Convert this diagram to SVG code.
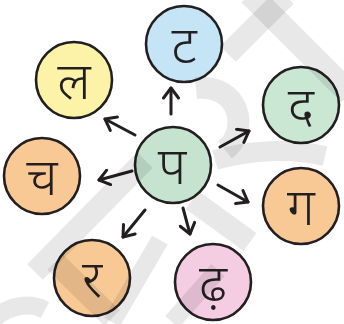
<svg xmlns="http://www.w3.org/2000/svg" width="344" height="324" viewBox="0 0 344 324">
<style>
.c{stroke:#231f20;stroke-width:2.6}
.t{font-family:"Noto Sans Devanagari","Noto Sans","Lohit Devanagari","DejaVu Sans",sans-serif;font-size:52px;font-weight:300;fill:#231f20;text-anchor:middle}
.a{stroke:#231f20;stroke-width:3;fill:none;stroke-linecap:round}
.w{stroke:#000;stroke-opacity:0.09;fill:none}
</style>
<defs>
<marker id="h" viewBox="-12 -9 14 18" markerWidth="14" markerHeight="18" refX="0" refY="0" orient="auto" markerUnits="userSpaceOnUse">
<path d="M-10,-7.5 L0,0 L-10,7.5" fill="none" stroke="#231f20" stroke-width="3" stroke-linecap="round" stroke-linejoin="round"/>
</marker>
</defs>
<rect width="344" height="324" fill="#fff"/>
<g id="n-p"><circle class="c" cx="173" cy="165" r="38" fill="#c6e3d0"/><text class="t" x="172" y="184">प</text></g>
<g id="n-t"><circle class="c" cx="184" cy="44" r="38" fill="#c5e5f7"/><text class="t" x="184" y="63">ट</text></g>
<g id="n-l"><circle class="c" cx="74" cy="80" r="38" fill="#fcf3a8"/><text class="t" x="74" y="99">ल</text></g>
<g id="n-d"><circle class="c" cx="301" cy="105" r="38" fill="#cae7d3"/><text class="t" x="301" y="124">द</text></g>
<g id="n-g"><circle class="c" cx="301" cy="206" r="38" fill="#f9c995"/><text class="t" x="301" y="225">ग</text></g>
<g id="n-dh"><circle class="c" cx="213" cy="282" r="38" fill="#f5cde3"/><text class="t" x="213" y="301">ढ़</text></g>
<g id="n-r"><circle class="c" cx="92" cy="278" r="38" fill="#f9c995"/><text class="t" x="92" y="297">र</text></g>
<g id="n-c"><circle class="c" cx="42" cy="176" r="38" fill="#f9c995"/><text class="t" x="42" y="195">च</text></g>
<g id="connectors">
<line class="a" x1="171" y1="114" x2="171" y2="88" marker-end="url(#h)"/>
<line class="a" x1="135" y1="135" x2="105" y2="119" marker-end="url(#h)"/>
<line class="a" x1="132" y1="171" x2="99" y2="180" marker-end="url(#h)"/>
<line class="a" x1="220" y1="147" x2="249" y2="131" marker-end="url(#h)"/>
<line class="a" x1="218" y1="185" x2="248" y2="202" marker-end="url(#h)"/>
<line class="a" x1="183" y1="208" x2="190" y2="234" marker-end="url(#h)"/>
<line class="a" x1="145" y1="210" x2="123" y2="237" marker-end="url(#h)"/>
</g>
<g id="watermark" class="w">
<line x1="250" y1="-6" x2="350" y2="94" stroke-width="24"/>
<line x1="286" y1="-4" x2="228" y2="54" stroke-width="22"/>
<path d="M196,88 C240,84 250,130 225,150" stroke-width="22"/>
<path d="M215,160 C250,150 290,148 325,156" stroke-width="20"/>
<line x1="35" y1="272" x2="145" y2="160" stroke-width="22"/>
<line x1="112" y1="322" x2="160" y2="240" stroke-width="18"/>
<line x1="55" y1="262" x2="112" y2="318" stroke-width="22"/>
<line x1="192" y1="200" x2="250" y2="242" stroke-width="22"/>
<line x1="172" y1="322" x2="218" y2="270" stroke-width="18"/>
<path d="M-5,318 C10,305 30,302 45,310" stroke-width="18"/>
</g>
</svg>
